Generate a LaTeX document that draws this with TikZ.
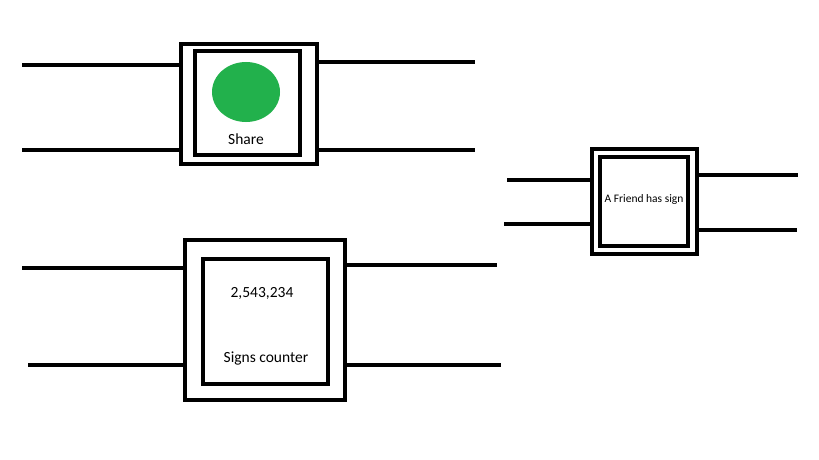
\documentclass[tikz,border=0pt]{standalone}
\usepackage{fontspec}
\setmainfont{Carlito}
\usetikzlibrary{shapes.geometric}
\begin{document}
\begin{tikzpicture}[x=1pt,y=-1pt,
  outerbox/.style={draw=black,line width=4pt,fill=white,inner sep=0pt},
  innerbox/.style={draw=black,line width=4.5pt,inner sep=0pt},
  wire/.style={line width=3.5pt,line cap=butt},
  lbl/.style={font=\fontsize{15.5}{17}\selectfont,inner sep=0pt}]
\useasboundingbox[fill=white] (0,0) rectangle (819,460);
% box 1
\node[outerbox,minimum width=136pt,minimum height=120pt] (b1) at (249,104) {};
\node[innerbox,minimum width=105pt,minimum height=104pt] (i1) at (247.5,103) {};
\node[fill={rgb,255:red,34;green,177;blue,76},ellipse,minimum width=68pt,minimum height=60pt,inner sep=0pt] (dot) at (246,92) {};
\node[lbl] (share) at (246,139) {Share};
\coordinate (l1a) at (22,65);
\coordinate (l1b) at (22,150);
\coordinate (r1a) at (475,62);
\coordinate (r1b) at (475,150);
\draw[wire] (l1a) -- (l1a -| b1.west);
\draw[wire] (l1b) -- (l1b -| b1.west);
\draw[wire] (r1a -| b1.east) -- (r1a);
\draw[wire] (r1b -| b1.east) -- (r1b);
% box 2
\node[outerbox,minimum width=160pt,minimum height=160pt] (b2) at (265,320) {};
\node[innerbox,minimum width=125pt,minimum height=125pt] (i2) at (265.5,321.5) {};
\node[lbl] (count) at (262,293) {2,543,234};
\node[lbl] (signs) at (266,358) {Signs counter};
\coordinate (l2a) at (22,268);
\coordinate (l2b) at (28,365);
\coordinate (r2a) at (497,265);
\coordinate (r2b) at (501,365);
\draw[wire] (l2a) -- (l2a -| b2.west);
\draw[wire] (l2b) -- (l2b -| b2.west);
\draw[wire] (r2a -| b2.east) -- (r2a);
\draw[wire] (r2b -| b2.east) -- (r2b);
% box 3
\node[outerbox,minimum width=105pt,minimum height=105pt] (b3) at (644.5,201.5) {};
\node[innerbox,minimum width=88pt,minimum height=89pt] (i3) at (644,201.5) {};
\node[font=\fontsize{11.5}{13}\selectfont,inner sep=0pt] (friend) at (644,199) {A Friend has sign};
\coordinate (l3a) at (507,180);
\coordinate (l3b) at (504,224);
\coordinate (r3a) at (798,175);
\coordinate (r3b) at (797,230);
\draw[wire] (l3a) -- (l3a -| b3.west);
\draw[wire] (l3b) -- (l3b -| b3.west);
\draw[wire] (r3a -| b3.east) -- (r3a);
\draw[wire] (r3b -| b3.east) -- (r3b);
\end{tikzpicture}
\end{document}
